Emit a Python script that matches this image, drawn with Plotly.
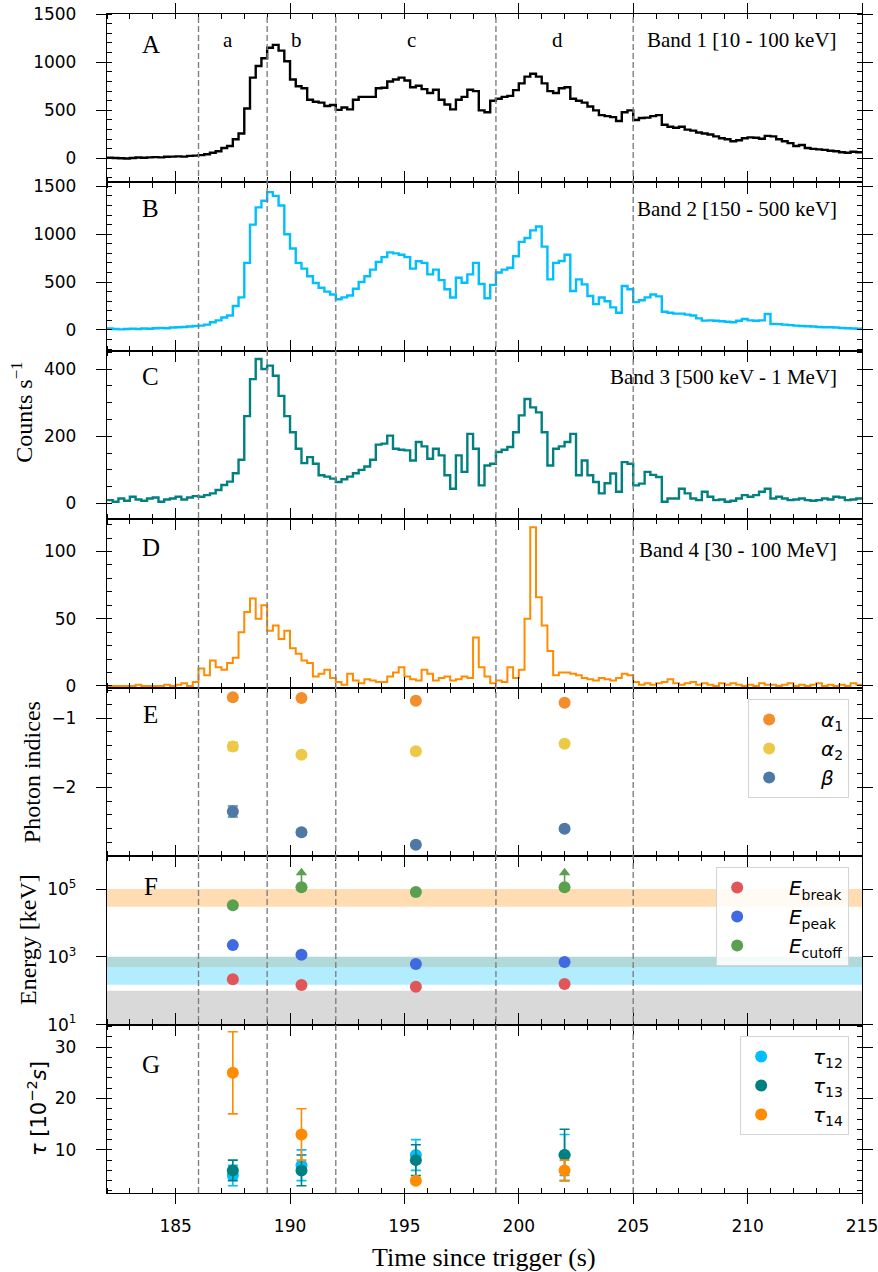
import plotly.graph_objects as go
from plotly.subplots import make_subplots

# ---------------- light curves (counts s^-1, 0.25 s bins from 182 s) ----------------
BIN_WIDTH = 0.25
T_START = 182.0

band1_counts = [
    8, 5, 3, 0,          # 182
    5, 10, 8, 12,        # 183
    15, 12, 18, 20,      # 184
    22, 20, 28, 30,      # 185
    35, 45, 60, 75,      # 186
    110, 130, 200, 260,  # 187
    520, 840, 960, 1040, # 188
    1150, 1180, 1120, 1010,  # 189
    820, 750, 730, 610,  # 190
    590, 580, 545, 555,  # 191
    505, 530, 510, 610,  # 192
    640, 640, 640, 730,  # 193
    735, 800, 820, 840,  # 194
    810, 740, 755, 720,  # 195
    680, 714, 610, 560,  # 196
    510, 610, 640, 714,  # 197
    700, 500, 480, 600,  # 198
    620, 640, 650, 710,  # 199
    780, 850, 880, 850,  # 200
    780, 700, 680, 730,  # 201
    740, 620, 600, 580,  # 202
    540, 500, 450, 440,  # 203
    430, 390, 480, 500,  # 204
    400, 420, 425, 440,  # 205
    450, 350, 330, 320,  # 206
    330, 300, 290, 270,  # 207
    260, 250, 230, 210,  # 208
    200, 180, 190, 210,  # 209
    220, 215, 205, 235,  # 210
    230, 200, 180, 160,  # 211
    130, 140, 110, 100,  # 212
    95, 90, 80, 75,      # 213
    65, 60, 70, 65,      # 214
]

band2_counts = [
    15, 10, 5, 10,       # 182
    12, 10, 15, 12,      # 183
    18, 20, 18, 25,      # 184
    28, 30, 35, 40,      # 185
    45, 55, 80, 100,     # 186
    130, 150, 250, 340,  # 187
    700, 1100, 1280, 1350,   # 188
    1440, 1400, 1300, 1000,  # 189
    850, 700, 640, 560,  # 190
    490, 440, 400, 370,  # 191
    320, 340, 360, 430,  # 192
    500, 560, 630, 710,  # 193
    760, 810, 800, 785,  # 194
    760, 640, 717, 700,  # 195
    580, 630, 520, 424,  # 196
    338, 545, 493, 580,  # 197
    700, 480, 330, 470,  # 198
    600, 630, 650, 770,  # 199
    920, 960, 1040, 1080,  # 200
    870, 528, 700, 720,  # 201
    785, 407, 528, 476,  # 202
    355, 269, 338, 300,  # 203
    235, 180, 458, 424,  # 204
    290, 310, 340, 370,  # 205
    350, 190, 180, 170,  # 206
    170, 160, 150, 120,  # 207
    97, 100, 95, 90,     # 208
    85, 80, 95, 114,     # 209
    100, 95, 100, 166,   # 210
    62, 60, 55, 50,      # 211
    45, 40, 38, 35,      # 212
    30, 28, 28, 25,      # 213
    20, 18, 15, 12,      # 214
]

band3_counts = [
    10, 5, 15, 8,        # 182
    20, 12, 8, 15,       # 183
    18, 5, 12, 15,       # 184
    20, 12, 18, 22,      # 185
    20, 25, 30, 40,      # 186
    55, 65, 90, 130,     # 187
    260, 370, 430, 400,  # 188
    410, 380, 320, 260,  # 189
    212, 163, 120, 138,  # 190
    118, 84, 80, 74,     # 191
    64, 72, 80, 90,      # 192
    100, 110, 130, 175,  # 193
    178, 202, 163, 160,  # 194
    158, 128, 183, 170,  # 195
    133, 163, 143, 84,   # 196
    44, 143, 94, 207,    # 197
    163, 54, 113, 118,   # 198
    153, 160, 168, 212,  # 199
    262, 311, 286, 271,  # 200
    212, 113, 163, 170,  # 201
    183, 207, 84, 128,   # 202
    84, 64, 30, 60,      # 203
    89, 35, 123, 118,    # 204
    54, 59, 94, 85,      # 205
    79, 5, 15, 15,       # 206
    44, 30, 15, 10,      # 207
    35, 20, 10, 12,      # 208
    5, 8, 15, 25,        # 209
    20, 25, 35, 44,      # 210
    15, 20, 15, 10,      # 211
    12, 15, 10, 8,       # 212
    10, 15, 12, 20,      # 213
    18, 10, 12, 15,      # 214
]

band4_counts = [
    0, 0, 0, 0,          # 182
    0, 1, 0, 0,          # 183
    0, 0, 1, 0,          # 184
    1, 2, 0, 3,          # 185
    13, 8, 19, 14,       # 186
    12, 17, 21, 40,      # 187
    55, 65, 50, 60,      # 188
    41, 45, 35, 41,      # 189
    28, 24, 19, 17,      # 190
    7, 9, 12, 6,         # 191
    3, 1, 9, 4,          # 192
    2, 5, 4, 3,          # 193
    3, 7, 10, 14,        # 194
    7, 5, 4, 12,         # 195
    9, 4, 6, 7,          # 196
    4, 5, 7, 6,          # 197
    36, 14, 7, 2,        # 198
    4, 3, 14, 6,         # 199
    12, 50, 118, 66,     # 200
    45, 26, 8, 10,       # 201
    10, 9, 8, 6,         # 202
    5, 4, 6, 5,          # 203
    4, 6, 9, 8,          # 204
    3, 1, 2, 1,          # 205
    2, 3, 5, 2,          # 206
    1, 2, 3, 1,          # 207
    2, 1, 0, 2,          # 208
    1, 2, 1, 0,          # 209
    1, 0, 2, 1,          # 210
    1, 0, 1, 2,          # 211
    0, 1, 0, 1,          # 212
    2, 0, 1, 0,          # 213
    1, 0, 2, 1,          # 214
]

band_names = ["Band 1 [10 - 100 keV]", "Band 2 [150 - 500 keV]",
              "Band 3 [500 keV - 1 MeV]", "Band 4 [30 - 100 MeV]"]
band_colors = ["black", "#00bfff", "#008080", "#ff8c00"]

# ---------------- time-resolved spectral results ----------------
seg_edges = [186, 189, 192, 199, 205]
seg_names = ["a", "b", "c", "d"]
seg_label_x = [187.3, 190.3, 195.3, 201.7]
seg_time = [187.5, 190.5, 195.5, 202.0]

alpha1 = [-0.70, -0.71, -0.75, -0.78]
alpha1_err = [0.02, 0.02, 0.02, 0.02]
alpha2 = [-1.41, -1.53, -1.48, -1.37]
alpha2_err = [0.06, 0.03, 0.03, 0.03]
beta = [-2.35, -2.65, -2.83, -2.60]
beta_err = [0.08, 0.04, 0.03, 0.03]

e_break = [216, 148, 131, 157]
e_peak = [2210, 1145, 610, 705]
e_cutoff = [33000, 112000, 81000, 112000]
e_cutoff_up = [0, 0, 12000, 0]
e_cutoff_down = [0, 0, 10000, 0]
e_cutoff_lower_limit = [False, True, False, True]

# energy ranges of the four light-curve bands (keV)
band_ranges_kev = [(10, 100), (150, 500), (500, 1000), (30000, 100000)]
band_fill = ["rgba(128,128,128,0.3)", "rgba(0,191,255,0.3)",
             "rgba(0,128,128,0.3)", "rgba(255,140,0,0.3)"]

tau12 = [5.0, 7.0, 9.0, 9.0]
tau12_err = [2, 3, 3, 4]
tau13 = [6.0, 6.0, 8.0, 9.0]
tau13_err = [2, 3, 3, 5]
tau14 = [25.0, 13.0, 4.0, 6.0]
tau14_err = [8, 5, 0.5, 2]

# ---------------- figure ----------------
SERIF = "Liberation Serif"
SANS = "DejaVu Sans"
X_RANGE = [182, 215.0001]

fig = make_subplots(rows=7, cols=1, shared_xaxes=True, vertical_spacing=0)


def axis_id(i):
    return "" if i == 1 else str(i)


def step_xy(vals):
    xs = [T_START + BIN_WIDTH * i for i in range(len(vals) + 1)]
    ys = list(vals) + [vals[-1]]
    return xs, ys


for row, (vals, color) in enumerate(zip(
        [band1_counts, band2_counts, band3_counts, band4_counts], band_colors), start=1):
    xs, ys = step_xy(vals)
    fig.add_trace(go.Scatter(x=xs, y=ys, mode="lines", line_shape="hv",
                             line=dict(color=color, width=2.4 if row < 4 else 2),
                             showlegend=False, hoverinfo="skip"), row=row, col=1)

# Panel E: photon indices
for name, vals, errs, color in [
        ("<i>α</i><sub>1</sub>", alpha1, alpha1_err, "#f28e2b"),
        ("<i>α</i><sub>2</sub>", alpha2, alpha2_err, "#edc948"),
        ("<i>β</i>", beta, beta_err, "#4e79a7")]:
    fig.add_trace(go.Scatter(
        x=seg_time, y=vals, mode="markers", name="     " + name,
        marker=dict(color=color, size=12),
        error_y=dict(type="data", array=errs, color=color, thickness=1.5, width=5),
        legend="legend"), row=5, col=1)

# Panel F: energy bands as shaded strips
for (lo, hi), fc in zip(band_ranges_kev, band_fill):
    fig.add_trace(go.Scatter(
        x=[X_RANGE[0], X_RANGE[1], X_RANGE[1], X_RANGE[0], X_RANGE[0]],
        y=[lo, lo, hi, hi, lo], mode="lines", fill="toself", fillcolor=fc,
        line=dict(width=0), showlegend=False, hoverinfo="skip"), row=6, col=1)

fig.add_trace(go.Scatter(
    x=seg_time, y=e_break, mode="markers", name="     <i>E</i><sub>break</sub>",
    marker=dict(color="#e15759", size=12), legend="legend2"), row=6, col=1)
fig.add_trace(go.Scatter(
    x=seg_time, y=e_peak, mode="markers", name="     <i>E</i><sub>peak</sub>",
    marker=dict(color="#4169e1", size=12), legend="legend2"), row=6, col=1)

GREEN = "#59a14f"
ARROW_FACTOR = 2.7
arrow_x, arrow_y, head_x, head_y = [], [], [], []
for t, v, flag in zip(seg_time, e_cutoff, e_cutoff_lower_limit):
    if flag:
        arrow_x += [t, t, None]
        arrow_y += [v, v * ARROW_FACTOR, None]
        head_x.append(t)
        head_y.append(v * ARROW_FACTOR)
fig.add_trace(go.Scatter(x=arrow_x, y=arrow_y, mode="lines",
                         line=dict(color=GREEN, width=1.6),
                         showlegend=False, hoverinfo="skip"), row=6, col=1)
fig.add_trace(go.Scatter(x=head_x, y=head_y, mode="markers",
                         marker=dict(symbol="triangle-up", color=GREEN, size=10),
                         showlegend=False, hoverinfo="skip"), row=6, col=1)
fig.add_trace(go.Scatter(
    x=seg_time, y=e_cutoff, mode="markers", name="     <i>E</i><sub>cutoff</sub>",
    marker=dict(color=GREEN, size=12),
    error_y=dict(type="data", array=e_cutoff_up, arrayminus=e_cutoff_down,
                 color=GREEN, thickness=1.5, width=5),
    legend="legend2"), row=6, col=1)

# Panel G: lags
for name, vals, errs, color in [
        ("<i>τ</i><sub>12</sub>", tau12, tau12_err, "#00bfff"),
        ("<i>τ</i><sub>13</sub>", tau13, tau13_err, "#008080"),
        ("<i>τ</i><sub>14</sub>", tau14, tau14_err, "#ff8c00")]:
    fig.add_trace(go.Scatter(
        x=seg_time, y=vals, mode="markers", name="     " + name,
        marker=dict(color=color, size=12),
        error_y=dict(type="data", array=errs, color=color, thickness=1.6, width=5),
        legend="legend3"), row=7, col=1)

# ---------------- axes ----------------
axis_common = dict(showline=True, linecolor="black", linewidth=1.3, mirror="allticks",
                   ticks="outside", ticklen=10, tickwidth=1.3, tickcolor="black",
                   showgrid=False, zeroline=False, automargin=False,
                   ticklabeloverflow="allow",
                   tickfont=dict(family=SANS, size=17, color="black"))

fig.update_xaxes(range=X_RANGE, dtick=5, tick0=0,
                 minor=dict(ticks="inside", ticklen=5, tickwidth=1, dtick=1,
                            tickcolor="black", showgrid=False),
                 **axis_common)
fig.update_xaxes(ticklabelstandoff=7, row=7, col=1)

y_specs = [
    dict(range=[-248, 1500], dtick=500, tick0=0, minor_dtick=100),
    dict(range=[-219, 1541], dtick=500, tick0=0, minor_dtick=100),
    dict(range=[-47, 454], dtick=200, tick0=0, minor_dtick=50),
    dict(range=[-1.3, 124], dtick=50, tick0=0, minor_dtick=10),
    dict(range=[-2.996, -0.561], dtick=1, tick0=0, minor_dtick=0.2),
    None,
    dict(range=[1.6, 34.4], dtick=10, tick0=0, minor_dtick=2),
]
Y_STANDOFF = 16
for row, spec in enumerate(y_specs, start=1):
    if spec is None:
        fig.update_yaxes(type="log", range=[1, 5.97],
                         tickvals=[10, 1000, 100000],
                         ticktext=["10<sup>1</sup>", "10<sup>3</sup>", "10<sup>5</sup>"],
                         ticklabelstandoff=Y_STANDOFF, row=row, col=1, **axis_common)
        continue
    fig.update_yaxes(range=spec["range"], dtick=spec["dtick"], tick0=spec["tick0"],
                     tickformat="d" if row < 5 else None,
                     minor=dict(ticks="inside", ticklen=5, tickwidth=1,
                                dtick=spec["minor_dtick"], tickcolor="black",
                                showgrid=False),
                     ticklabelstandoff=Y_STANDOFF, row=row, col=1, **axis_common)

# ---------------- segment boundaries ----------------
for xv in seg_edges:
    fig.add_shape(type="line", xref="x", yref="paper", x0=xv, x1=xv, y0=0, y1=1,
                  line=dict(color="#808080", width=1.4, dash="6px,3px"), layer="above")

# ---------------- text ----------------
annotations = []
panel_letters = ["A", "B", "C", "D", "E", "F", "G"]
letter_y = [0.82, 0.845, 0.845, 0.835, 0.84, 0.82, 0.76]
for i, (letter, ly) in enumerate(zip(panel_letters, letter_y), start=1):
    annotations.append(dict(text=letter, xref=f"x{axis_id(i)} domain",
                            yref=f"y{axis_id(i)} domain",
                            x=0.058, y=ly, showarrow=False, xanchor="center",
                            yanchor="middle", font=dict(family=SERIF, size=25)))
band_label_y = [0.845, 0.845, 0.845, 0.82]
for i, (txt, by) in enumerate(zip(band_names, band_label_y), start=1):
    annotations.append(dict(text=txt, xref=f"x{axis_id(i)} domain",
                            yref=f"y{axis_id(i)} domain",
                            x=0.969, y=by, showarrow=False, xanchor="right",
                            yanchor="middle", font=dict(family=SERIF, size=21)))
for name, xv in zip(seg_names, seg_label_x):
    annotations.append(dict(text=name, xref="x", yref="y domain", x=xv, y=0.846,
                            showarrow=False, xanchor="center", yanchor="middle",
                            font=dict(family=SERIF, size=21)))

title_common = dict(xref="paper", yref="paper", textangle=-90, showarrow=False,
                    xanchor="center", yanchor="middle")
annotations += [
    dict(text="Counts s<sup>−1</sup>", x=-0.113, y=0.6624,
         font=dict(family=SERIF, size=24), **title_common),
    dict(text="Photon indices", x=-0.0993, y=0.357,
         font=dict(family=SERIF, size=24), **title_common),
    dict(text="Energy [keV]", x=-0.1046, y=0.2146,
         font=dict(family=SERIF, size=24), **title_common),
    dict(text="<i>τ</i> [10<sup>−2</sup><i>s</i>]", x=-0.0927, y=0.0712,
         font=dict(family=SANS, size=21), **title_common),
    dict(text="Time since trigger (s)", xref="paper", yref="paper", x=0.4993, y=-0.0543,
         showarrow=False, xanchor="center", yanchor="middle",
         font=dict(family=SERIF, size=26)),
]

legend_style = dict(xanchor="right", yanchor="top", bgcolor="rgba(255,255,255,0.85)",
                    bordercolor="#d5d5d5", borderwidth=1,
                    font=dict(family=SANS, size=20, color="black"), itemwidth=30)

fig.update_layout(
    width=878, height=1272,
    margin=dict(l=107, r=16, t=14, b=79, autoexpand=False),
    plot_bgcolor="white", paper_bgcolor="white",
    font=dict(family=SANS, size=17, color="black"),
    annotations=annotations,
    legend=dict(x=0.983, y=0.419, **legend_style),
    legend2=dict(x=0.983, y=0.2765, **legend_style),
    legend3=dict(x=0.983, y=0.1332, **legend_style),
)

fig.write_html("out.html")
